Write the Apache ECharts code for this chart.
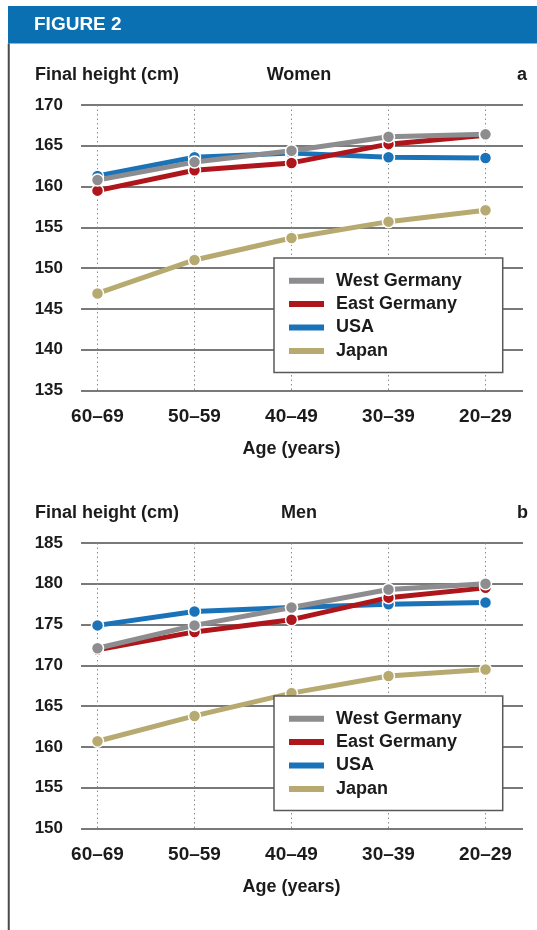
<!DOCTYPE html>
<html>
<head>
<meta charset="utf-8">
<script src="https://cdn.jsdelivr.net/npm/echarts@6/dist/echarts.min.js"></script>
<style>
  html, body { margin: 0; padding: 0; background: #ffffff; }
  #chart { width: 537px; height: 930px; }
</style>
</head>
<body>
<div id="chart"></div>
<script>
// Age groups, oldest first
const ageGroups = ['60–69', '50–59', '40–49', '30–39', '20–29'];
const countries = ['West Germany', 'East Germany', 'USA', 'Japan'];

// Mean final height (cm), women
const womenWestGermany = [160.8, 163.0, 164.4, 166.1, 166.4];
const womenEastGermany = [159.5, 162.0, 162.9, 165.2, 166.3];
const womenUSA         = [161.3, 163.6, 164.1, 163.6, 163.5];
const womenJapan       = [146.9, 151.0, 153.7, 155.7, 157.1];

// Mean final height (cm), men
const menWestGermany = [172.1, 174.9, 177.1, 179.3, 180.0];
const menEastGermany = [171.9, 174.1, 175.6, 178.3, 179.5];
const menUSA         = [174.9, 176.6, 177.1, 177.5, 177.7];
const menJapan       = [160.7, 163.8, 166.6, 168.7, 169.5];

// Y-axis ranges
const womenAxis = { min: 135, max: 170, step: 5 };
const menAxis   = { min: 150, max: 185, step: 5 };

const COLORS = {
  'West Germany': '#8d8d90',
  'East Germany': '#ae161c',
  'USA': '#1a73b9',
  'Japan': '#b7aa70'
};
const FONT = "'Liberation Sans', Arial, sans-serif";
const INK = '#1b1b1b';

const chart = echarts.init(document.getElementById('chart'), null, { renderer: 'canvas' });

const grids = [], xAxes = [], yAxes = [], series = [], titles = [], legends = [];

function addPanel(dy, axis, heading, tag, values) {
  const top = 105 + dy, height = 285.5;
  const g0 = grids.length;
  // background grid: horizontal rules and value labels
  grids.push({ left: 81, right: 14, top: top, height: height });
  // data grid: category positions
  grids.push({ left: 97.5, right: 51.5, top: top, height: height });

  xAxes.push({ gridIndex: g0, type: 'value', min: 0, max: 1, show: false });
  yAxes.push({
    gridIndex: g0, type: 'value', min: axis.min, max: axis.max, interval: axis.step,
    axisLine: { show: false }, axisTick: { show: false },
    axisLabel: { margin: 18, color: INK, fontFamily: FONT, fontWeight: 'bold', fontSize: 17 },
    splitLine: { lineStyle: { color: '#4d4d4d', width: 1.5 } }
  });

  xAxes.push({
    gridIndex: g0 + 1, type: 'category', data: ageGroups, boundaryGap: false,
    axisLine: { show: false }, axisTick: { show: false },
    axisLabel: { margin: 17, color: INK, fontFamily: FONT, fontWeight: 'bold', fontSize: 19 },
    splitLine: { show: true, lineStyle: { color: '#8a8a8a', width: 1, type: [1.5, 3] } },
    name: 'Age (years)', nameLocation: 'middle', nameGap: 50,
    nameTextStyle: { color: INK, fontFamily: FONT, fontWeight: 'bold', fontSize: 18 }
  });
  yAxes.push({
    gridIndex: g0 + 1, type: 'value', min: axis.min, max: axis.max, interval: axis.step,
    show: false, splitLine: { show: false }
  });

  // drawing order: Japan at the back, West Germany on top
  const order = ['Japan', 'USA', 'East Germany', 'West Germany'];
  order.forEach((name) => {
    series.push({
      name: name, type: 'line', xAxisIndex: g0 + 1, yAxisIndex: g0 + 1,
      data: values[name],
      symbol: 'circle', symbolSize: 12,
      lineStyle: { width: 5, color: COLORS[name] },
      itemStyle: { color: COLORS[name], borderColor: '#ffffff', borderWidth: 1.5 },
      emphasis: { disabled: true },
      animation: false
    });
  });

  const tTop = 66 + dy;
  const ts = { color: INK, fontFamily: FONT, fontWeight: 'bold', fontSize: 18 };
  titles.push({ text: 'Final height (cm)', left: 35, top: tTop, padding: 0, textStyle: ts });
  titles.push({ text: heading, left: 299, top: tTop, padding: 0, textAlign: 'center', textStyle: ts });
  titles.push({ text: tag, left: 517, top: tTop, padding: 0, textStyle: ts });

  legends.push({
    data: countries, orient: 'vertical', left: 274, top: 258 + dy,
    padding: [11, 41, 10, 15], itemGap: 0, itemWidth: 35, itemHeight: 6,
    icon: 'rect', selectedMode: false,
    backgroundColor: '#ffffff', borderColor: '#595959', borderWidth: 1.5,
    itemStyle: { borderWidth: 0 },
    textStyle: { color: INK, fontFamily: FONT, fontWeight: 'bold', fontSize: 18, lineHeight: 23.4, padding: [0, 0, 0, 7] }
  });
}

addPanel(0, womenAxis, 'Women', 'a', {
  'West Germany': womenWestGermany, 'East Germany': womenEastGermany,
  'USA': womenUSA, 'Japan': womenJapan
});
addPanel(438, menAxis, 'Men', 'b', {
  'West Germany': menWestGermany, 'East Germany': menEastGermany,
  'USA': menUSA, 'Japan': menJapan
});

chart.setOption({
  animation: false,
  backgroundColor: '#ffffff',
  title: titles,
  legend: legends,
  grid: grids,
  xAxis: xAxes,
  yAxis: yAxes,
  series: series,
  graphic: [
    // header band
    { type: 'rect', shape: { x: 8, y: 6, width: 529, height: 37.5 }, style: { fill: '#0a70b1' }, z: 0 },
    { type: 'text', x: 34, y: 25, style: { text: 'FIGURE 2', fill: '#ffffff', font: "bold 19px " + FONT, textVerticalAlign: 'middle' }, z: 1 },
    // left rule of the figure frame
    { type: 'line', shape: { x1: 8.75, y1: 43.5, x2: 8.75, y2: 930 }, style: { stroke: '#4a4a4a', lineWidth: 2 }, z: 1 }
  ]
});
</script>
</body>
</html>
